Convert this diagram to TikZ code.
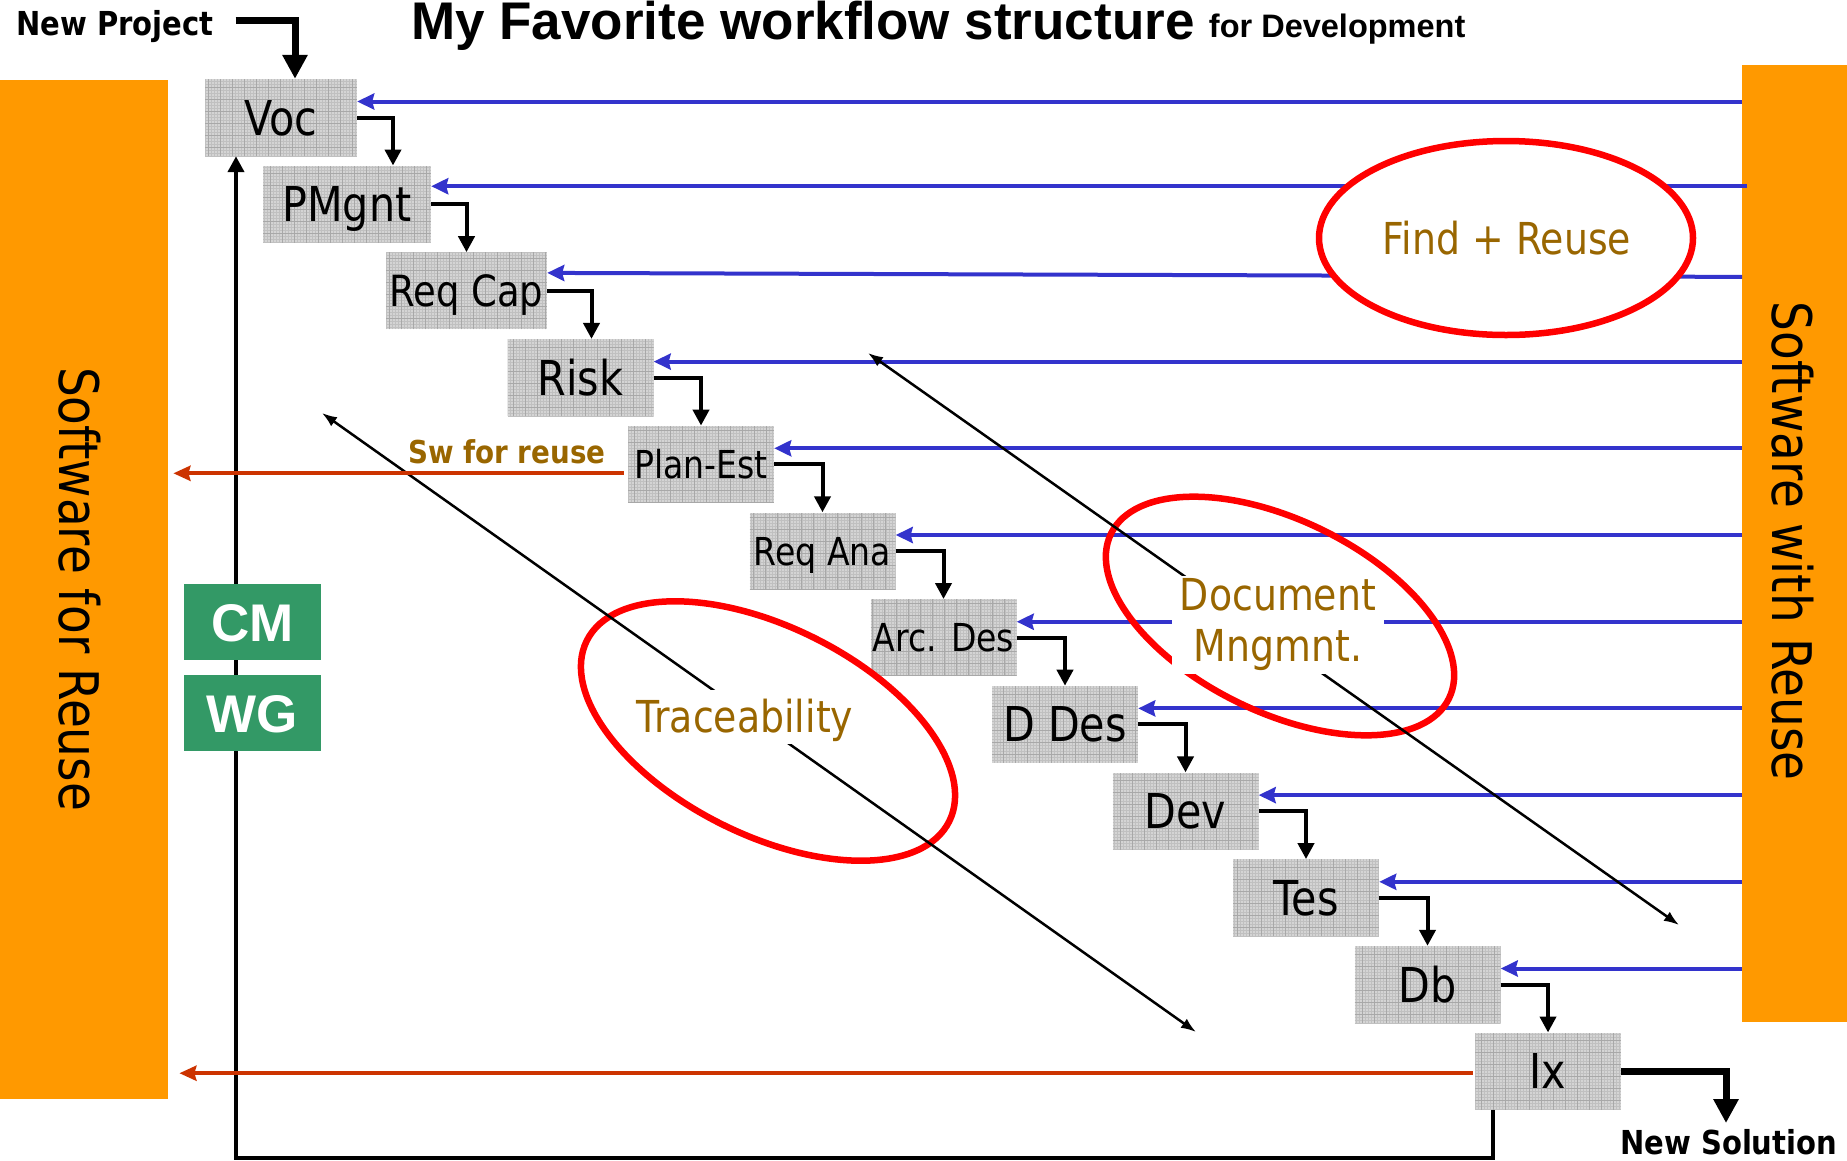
\documentclass[tikz,border=0pt]{standalone}
\usepackage{fontspec}
\setmainfont{Liberation Sans}
\newfontfamily\tah[FakeStretch=0.86]{DejaVu Sans}
\newfontfamily\tahb[FakeStretch=0.88]{DejaVu Sans}
\usetikzlibrary{arrows.meta,calc,shapes.geometric}

\definecolor{barorange}{HTML}{FF9900}
\definecolor{reuseblue}{HTML}{3333CC}
\definecolor{rustred}{HTML}{CC3300}
\definecolor{gold}{HTML}{996600}
\definecolor{cmgreen}{HTML}{339966}
\definecolor{boxgray}{HTML}{D4D4D4}
\definecolor{gridfine}{HTML}{C0C0C0}
\definecolor{gridmajor}{HTML}{A8A8A8}

\begin{document}
\begin{tikzpicture}[x=1pt,y=-1pt,
  bar/.style={fill=barorange, anchor=north west, inner sep=0},
  bartext/.style={font={\tah\fontsize{54.6}{60}\selectfont}, rotate=-90, inner sep=0},
  gbox/.style={fill=boxgray, inner sep=0, minimum height=77pt, text depth=0pt,
    path picture={
      \draw[gridfine, line width=0.5pt] (path picture bounding box.south west) grid[step=3pt] (path picture bounding box.north east);
      \draw[gridmajor, line width=0.8pt] (path picture bounding box.south west) grid[step=12pt] (path picture bounding box.north east);}},
  big/.style={font={\tah\fontsize{48}{56}\selectfont}, text height=35pt},
  mid/.style={font={\tah\fontsize{43}{50}\selectfont}, text height=31pt},
  small/.style={font={\tah\fontsize{38.5}{44}\selectfont}, text height=28pt},
  conn/.style={draw=black, line width=4pt, line join=miter, -{Triangle[length=16pt,width=16pt]}},
  bline/.style={draw=reuseblue, line width=4pt, -{Stealth[length=17pt,width=16pt,inset=2pt]}},
  rline/.style={draw=rustred, line width=4pt, -{Stealth[length=17pt,width=15pt,inset=2pt]}},
  fat/.style={draw=black, line width=7pt, line join=miter, -{Triangle[length=24pt,width=24pt]}},
  diag/.style={draw=black, line width=2.5pt, {Latex[length=15pt,width=11pt]}-{Latex[length=15pt,width=11pt]}},
  ell/.style={ellipse, draw=red, line width=6.5pt, inner sep=0},
  lbl/.style={font={\tah\fontsize{44}{51}\selectfont}, text=gold},
  gn/.style={fill=cmgreen, text=white, font={\bfseries\fontsize{53}{60}\selectfont},
    minimum width=137pt, minimum height=76pt, inner sep=0, text height=38pt, text depth=0pt},
  heading/.style={anchor=base west, inner sep=0},
]
\clip (0,0) rectangle (1847,1160);

% side bars
\node[bar, minimum width=168pt, minimum height=1019pt] (lbar) at (0,80) {};
\node[bar, minimum width=105pt, minimum height=957pt] (rbar) at (1742,65) {};
\node[bartext] (lbt) at (80,589) {Software for Reuse};
\node[bartext] (rbt) at (1793,541) {Software with Reuse};

% workflow steps
\node[gbox, big, minimum width=152pt] (voc) at (281,117.5) {Voc};
\node[gbox, big, minimum width=168pt] (pm) at (347,204.2) {PMgnt};
\node[gbox, mid, minimum width=161pt] (rc) at (466.5,290.9) {Req Cap};
\node[gbox, big, minimum width=146pt] (risk) at (580.5,377.6) {Risk};
\node[gbox, small, minimum width=146pt] (plan) at (701,464.3) {Plan-Est};
\node[gbox, small, minimum width=146pt] (rana) at (822.5,551) {Req Ana};
\node[gbox, small, minimum width=146pt] (arc) at (943.5,637.7) {Arc. Des};
\node[gbox, big, minimum width=146pt] (dd) at (1065,724.4) {D Des};
\node[gbox, big, minimum width=146pt] (dev) at (1185.5,811.1) {Dev};
\node[gbox, big, minimum width=146pt] (tes) at (1306,897.8) {Tes};
\node[gbox, big, minimum width=146pt] (db) at (1427.5,984.5) {Db};
\node[gbox, big, minimum width=146pt] (ix) at (1548,1071.2) {Ix};

% reuse feeds from the right bar
\draw[bline] ($(voc.east -| rbar.west)+(0,-16)$) -- ($(voc.east)+(0,-16)$);
\draw[bline] ($(pm.east -| rbar.west)+(5,-18)$) -- ($(pm.east)+(0,-18)$);
\draw[bline] ($(rc.east -| rbar.west)+(0,-14)$) -- ($(rc.east)+(0,-18)$);
\foreach \s in {risk,plan,rana,arc,dd,dev,tes,db}
  \draw[bline] ($(\s.east -| rbar.west)+(0,-16)$) -- ($(\s.east)+(0,-16)$);

% focus areas
\node[ell, fill=white, minimum width=374pt, minimum height=194pt] (fre) at (1506,238) {};
\node[lbl, anchor=base] (frl) at (1507,254) {Find + Reuse};
\node[ell, minimum width=376pt, minimum height=192pt, rotate=-26] (dme) at (1280,616) {};
\node[ell, minimum width=405pt, minimum height=208pt, rotate=-26.5] (tre) at (768,731) {};

% spans across the flow
\coordinate (ta) at (322,413);
\coordinate (tb) at (1196,1032);
\coordinate (da) at (868,353);
\coordinate (dz) at (1679,925);
\draw[diag] (ta) -- (tb);
\draw[diag] (da) -- (dz);
\node[lbl, fill=white, inner xsep=6pt, inner ysep=9pt, text height=33pt, text depth=3pt] (trl) at (745,717) {Traceability};
\node[lbl, fill=white, align=center, inner xsep=8pt, inner ysep=3pt] (dml) at (1278,625) {Document\\Mngmnt.};

% loop back from integration to vocabulary
\draw[conn] ($(ix.south)+(-55,0)$) -- ++(0,48) -| ($(voc.south)+(-45,0)$);

% software handed over for reuse
\draw[rline] ($(plan.west)+(-4,9)$) -- ($(plan.west -| lbar.east)+(5,9)$);
\draw[rline] ($(ix.west)+(-2,2)$) -- ($(ix.west -| lbar.east)+(11,2)$);
\node[heading, text=gold, font={\tahb\bfseries\fontsize{31.5}{36}\selectfont}] (sw) at (408,463) {Sw for reuse};

% configuration management / working group
\node[gn] (cm) at (252.5,622) {CM};
\node[gn] (wg) at (252.5,713) {WG};

% step-to-step flow
\draw[conn] (voc.east) -| ($(pm.north)+(46,0)$);
\draw[conn] (pm.east) -| (rc.north);
\draw[conn] (rc.east) -| ($(risk.north)+(11,0)$);
\draw[conn] (risk.east) -| (plan.north);
\draw[conn] (plan.east) -| (rana.north);
\draw[conn] (rana.east) -| (arc.north);
\draw[conn] (arc.east) -| (dd.north);
\draw[conn] (dd.east) -| (dev.north);
\draw[conn] (dev.east) -| (tes.north);
\draw[conn] (tes.east) -| (db.north);
\draw[conn] (db.east) -| (ix.north);

% entry and exit
\node[heading, font={\tahb\bfseries\fontsize{33}{38}\selectfont}] (np) at (16,35) {New Project};
\draw[fat] ($(np.base east)+(22,-15)$) -| ($(voc.north)+(14,0)$);
\node[heading, font={\tahb\bfseries\fontsize{33}{38}\selectfont}] (ns) at (1620,1154) {New Solution};
\coordinate (nstip) at (1726,1123);
\draw[fat] (ix.east) -| (nstip);

% title
\node[heading, font={\bfseries\fontsize{53}{60}\selectfont}] (title) at (411,39) {My Favorite workflow structure};
\node[heading, font={\bfseries\fontsize{32.5}{38}\selectfont}] (sub) at ($(title.base east)+(14,-2)$) {for Development};
\end{tikzpicture}
\end{document}
